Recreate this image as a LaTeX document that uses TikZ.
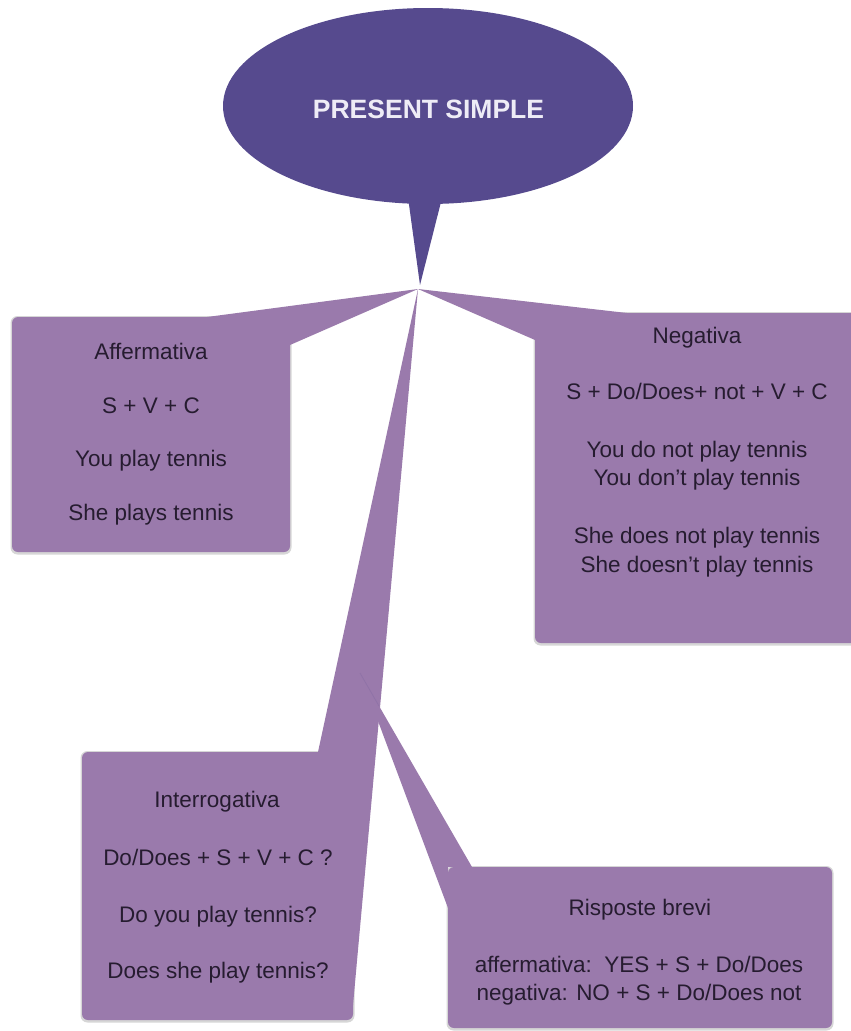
\documentclass[tikz,border=0pt]{standalone}
\usepackage{fontspec}
\setmainfont{Liberation Sans}
\usetikzlibrary{shapes.geometric}
\definecolor{darkpurple}{RGB}{86,74,142}
\definecolor{boxpurple}{RGB}{154,122,172}
\definecolor{txt}{RGB}{38,28,48}
\definecolor{titletxt}{RGB}{238,236,246}
\begin{document}
\begin{tikzpicture}[x=1pt,y=-1pt,
  boxfill/.style={fill=boxpurple, draw=none},
  boxbody/.style={fill=boxpurple, draw=none, rounded corners=6pt},
  boxshadow/.style={fill=black, fill opacity=0.16, draw=none, rounded corners=7pt},
  txtline/.style={anchor=base, text=txt, inner sep=0pt, font=\fontsize{22.5}{27}\selectfont},
  ]
\useasboundingbox (0,0) rectangle (851,1031);
\fill[white] (0,0) rectangle (851,1031);

% hub where the callouts meet
\coordinate (hub) at (418,289);
\coordinate (tailtip) at (420,285);
\coordinate (risptip) at (360,673);
\coordinate (rispcross) at (379,706);

% title bubble
\fill[darkpurple] (407,190) -- (tailtip) -- (444,190) -- cycle;
\node[ellipse, fill=darkpurple, minimum width=410pt, minimum height=196pt, inner sep=0pt] (bubble) at (428,106) {};
\node[anchor=base, inner sep=0pt, text=titletxt, font=\bfseries\fontsize{26.5}{30}\selectfont] (title) at (428.5,118) {PRESENT SIMPLE};

% shadows
\fill[boxshadow] (10.5,316) rectangle (291.5,554.5);
\fill[boxshadow] (533.5,312) rectangle (860,645.5);
\fill[boxshadow] (446.5,866) rectangle (833.5,1030.5);
\fill[boxshadow] (80.5,751) rectangle (354.5,1022.5);

% Affermativa
\fill[boxbody] (12,317) rectangle (290,552);
\fill[boxfill] (207,317) -- (hub) -- (290,345) -- (207,345) -- cycle;
\node[txtline] (aff1) at (151,359) {Affermativa};
\node[txtline] (aff2) at (151,413) {S + V + C};
\node[txtline] (aff3) at (151,466) {You play tennis};
\node[txtline] (aff4) at (151,520) {She plays tennis};

% Negativa
\fill[boxbody] (535,313) rectangle (860,643);
\fill[boxfill] (627,313) -- (hub) -- (535,340) -- (627,340) -- cycle;
\node[txtline] (neg1) at (697,343) {Negativa};
\node[txtline] (neg2) at (697,399) {S + Do/Does+ not + V + C};
\node[txtline] (neg3) at (697,457) {You do not play tennis};
\node[txtline] (neg4) at (697,485) {You don’t play tennis};
\node[txtline] (neg5) at (697,543) {She does not play tennis};
\node[txtline] (neg6) at (697,572) {She doesn’t play tennis};

% Risposte brevi
\fill[boxbody] (448,867) rectangle (832,1028);
\fill[boxfill] (risptip) -- (472,867) -- (448,867) -- (448,908) -- cycle;
\node[txtline] (ris1) at (640,915) {Risposte brevi};
\node[txtline] (ris2) at (639,972) {affermativa:\ \ YES + S + Do/Does};
\node[txtline] (ris3) at (639,1000) {negativa: NO + S + Do/Does not};

% Interrogativa
\fill[boxbody] (82,752) rectangle (353,1020);
\fill[boxfill] (318,752) -- (hub) -- (353,1005) -- (318,1005) -- cycle;
\node[txtline] (int1) at (217,807) {Interrogativa};
\node[txtline] (int2) at (218,865) {Do/Does + S + V + C ?};
\node[txtline] (int3) at (218,922) {Do you play tennis?};
\node[txtline] (int4) at (218,978) {Does she play tennis?};

% faint edge of the hidden Risposte pointer
\draw[boxpurple!75!darkpurple, line width=0.8pt, draw opacity=0.6] (risptip) -- (rispcross);
\end{tikzpicture}
\end{document}
